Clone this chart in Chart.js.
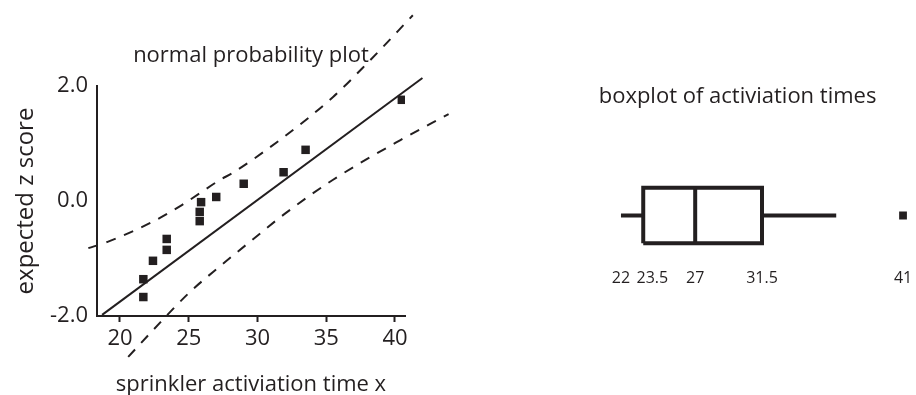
<!DOCTYPE html>
<html>
<head>
<meta charset="utf-8">
<script src="https://cdn.jsdelivr.net/npm/chart.js@4.4.1/dist/chart.umd.min.js"></script>
<style>
	body { margin: 0; background: #ffffff; }
	#normal-plot { position: absolute; left: 0; top: 0; }
	#box-plot { position: absolute; left: 560px; top: 0; }
</style>
</head>
<body>
<canvas id="normal-plot" width="470" height="395"></canvas>
<canvas id="box-plot" width="356" height="395"></canvas>
<script>
// normal probability plot: activation time vs expected z score
const times = [21.7, 21.7, 22.4, 23.4, 23.4, 25.8, 25.8, 25.9, 27.0, 29.0, 31.9, 33.5, 40.5]
const zScores = [-1.67, -1.36, -1.04, -0.85, -0.66, -0.35, -0.19, -0.02, 0.07, 0.3, 0.5, 0.89, 1.76]
const fitX = [18.7, 42.0]
const fitZ = [-1.98, 2.14]
const upperX = [17.7, 19.1, 22.3, 24.5, 27.3, 28.2, 31.9, 35.5, 38.0, 41.3]
const upperZ = [-0.82, -0.71, -0.37, -0.07, 0.37, 0.49, 1.11, 1.81, 2.4, 3.23]
const lowerX = [20.6, 22.9, 25.1, 27.3, 29.6, 32.0, 35.5, 40.4, 43.9]
const lowerZ = [-2.71, -2.12, -1.58, -1.13, -0.68, -0.22, 0.37, 1.06, 1.51]
const xTicks = [20, 25, 30, 35, 40]
const zTicks = [-2, 0, 2]

// boxplot of activation times
const boxStats = [22, 23.5, 27, 31.5]   // min, q1, median, q3
const whiskerTop = 36.5
const outliers = [41]
const boxTicks = [22, 23.5, 27, 31.5, 41]

const ink = "#231f20"
const font = "'Open Sans', 'Noto Sans', sans-serif"
Chart.defaults.font.family = font
Chart.defaults.color = ink

const pts = (xs, ys) => xs.map((x, i) => ({ x: x, y: ys[i] }))

const band = (xs, ys) => ({
	type: "line",
	data: pts(xs, ys),
	borderColor: ink,
	borderWidth: 2,
	borderDash: [10, 9],
	pointRadius: 0,
	cubicInterpolationMode: "monotone",
	clip: false
})

new Chart(document.getElementById("normal-plot").getContext("2d"), {
	type: "scatter",
	data: {
		datasets: [
			{
				data: pts(times, zScores),
				pointStyle: "rect",
				pointRadius: 6,
				backgroundColor: ink,
				borderWidth: 0
			},
			{
				type: "line",
				data: pts(fitX, fitZ),
				borderColor: ink,
				borderWidth: 2,
				pointRadius: 0,
				clip: false
			},
			band(upperX, upperZ),
			band(lowerX, lowerZ)
		]
	},
	options: {
		responsive: false,
		animation: false,
		layout: { padding: { left: 0, right: 65, top: 0, bottom: 0 } },
		scales: {
			x: {
				type: "linear",
				min: 18.33,
				max: 40.73,
				afterBuildTicks: (axis) => { axis.ticks = xTicks.map(v => ({ value: v })) },
				afterFit: (axis) => { axis.height = 79 },
				ticks: {
					color: ink,
					font: { size: 22 },
					padding: 4
				},
				grid: {
					drawOnChartArea: false,
					tickLength: 6,
					tickWidth: 2,
					color: ink
				},
				border: { color: ink, width: 2 },
				title: {
					display: true,
					text: "sprinkler activiation time x",
					color: ink,
					font: { size: 22, lineHeight: 1 },
					padding: { top: 0, bottom: -1 }
				}
			},
			y: {
				type: "linear",
				min: -2,
				max: 2,
				afterBuildTicks: (axis) => { axis.ticks = zTicks.map(v => ({ value: v })) },
				afterFit: (axis) => { axis.width = 97 },
				ticks: {
					color: ink,
					font: { size: 22 },
					padding: 9,
					callback: (v) => v.toFixed(1)
				},
				grid: { display: false, drawTicks: false },
				border: { color: ink, width: 2 },
				title: {
					display: true,
					text: "expected z score",
					color: ink,
					font: { size: 24, lineHeight: 1 },
					padding: { top: 14, bottom: 0 }
				}
			}
		},
		plugins: {
			legend: { display: false },
			tooltip: { enabled: false },
			title: {
				display: true,
				text: "normal probability plot",
				color: ink,
				fullSize: false,
				font: { size: 22, weight: "normal", lineHeight: 1 },
				padding: { top: 45, bottom: 19 }
			}
		}
	}
})

const boxLine = (xs, ys) => ({
	type: "line",
	data: pts(xs, ys),
	borderColor: ink,
	borderWidth: 4,
	borderJoinStyle: "miter",
	pointRadius: 0,
	tension: 0
})

new Chart(document.getElementById("box-plot").getContext("2d"), {
	type: "scatter",
	data: {
		datasets: [
			boxLine([boxStats[0], boxStats[1]], [0, 0]),
			boxLine([boxStats[3], whiskerTop], [0, 0]),
			boxLine([boxStats[1], boxStats[3], boxStats[3], boxStats[1], boxStats[1]], [-1, -1, 1, 1, -1]),
			boxLine([boxStats[2], boxStats[2]], [-1, 1]),
			{
				data: outliers.map(v => ({ x: v, y: 0 })),
				pointStyle: "rect",
				pointRadius: 5.5,
				backgroundColor: ink,
				borderWidth: 0
			}
		]
	},
	options: {
		responsive: false,
		animation: false,
		layout: { autoPadding: false, padding: { left: 38.7, right: 1.1, top: 0, bottom: 0 } },
		scales: {
			x: {
				type: "linear",
				min: 20.5,
				max: 41.8,
				afterBuildTicks: (axis) => { axis.ticks = boxTicks.map(v => ({ value: v })) },
				afterFit: (axis) => {
					axis.height = 138
					axis.paddingLeft = 0
					axis.paddingRight = 0
				},
				ticks: {
					color: ink,
					font: { size: 16, lineHeight: 2.25 },
					padding: 3,
					// q1 label nudged right so it clears the min label
					callback: (v) => v === boxStats[1] ? "\u2007\u2007" + v : String(v)
				},
				grid: { display: false, drawTicks: false },
				border: { display: false }
			},
			y: {
				type: "linear",
				min: -1.5,
				max: 1.5,
				display: false
			}
		},
		plugins: {
			legend: { display: false },
			tooltip: { enabled: false },
			title: {
				display: true,
				text: "boxplot of activiation times",
				color: ink,
				align: "start",
				font: { size: 22, weight: "normal", lineHeight: 1 },
				padding: { top: 86, bottom: 66 }
			}
		}
	}
})
</script>
</body>
</html>
